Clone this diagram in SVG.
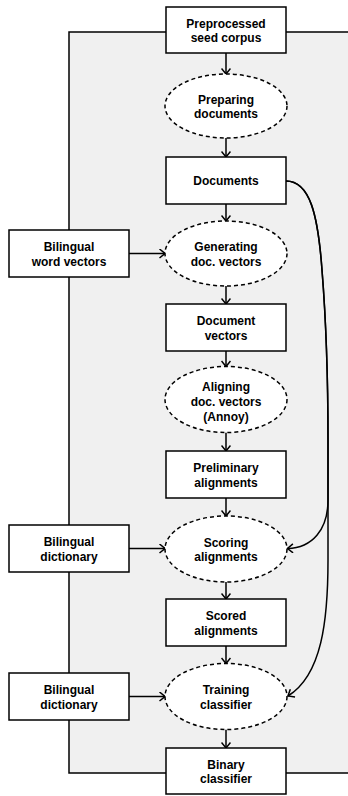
<svg xmlns="http://www.w3.org/2000/svg" width="348" height="796" viewBox="0 0 348 796">
<style>
.box{fill:#fff;stroke:#000;stroke-width:1.5}
.proc{fill:#fff;stroke:#000;stroke-width:1.5;stroke-dasharray:4 3}
.bg{fill:#f0f0f0;stroke:#000;stroke-width:1.5}
.c{fill:none;stroke:#000;stroke-width:1.5;marker-end:url(#arr)}
text{font-family:"Liberation Sans",Arial,sans-serif;font-weight:bold;font-size:12px;text-anchor:middle;fill:#000}
</style>
<defs>
<marker id="arr" markerUnits="userSpaceOnUse" viewBox="0 0 10 10" refX="9" refY="5" markerWidth="10" markerHeight="10" orient="auto">
<path d="M3.5,0.5 L9,5 L3.5,9.5" fill="none" stroke="#000" stroke-width="1.5"/>
</marker>
</defs>
<rect class="bg" x="69" y="32" width="290" height="741"/>
<g id="connectors">
<path class="c" d="M226,53 V74"/>
<path class="c" d="M226,138 V157"/>
<path class="c" d="M226,204 V221"/>
<path class="c" d="M226,286 V304"/>
<path class="c" d="M226,351 V366.5"/>
<path class="c" d="M226,432.5 V451"/>
<path class="c" d="M226,498 V516"/>
<path class="c" d="M226,582 V599"/>
<path class="c" d="M226,646 V663.5"/>
<path class="c" d="M226,729.5 V748"/>
<path class="c" d="M129,253.5 H165"/>
<path class="c" d="M129,548.5 H165"/>
<path class="c" d="M129,696.5 H165"/>
<path class="c" d="M286,181 C310,181 318,215 322,270 C326,320 328,380 328,440 L328,500 C328,530 312,548 287.5,548.5"/>
<path class="c" d="M286,181 C310,181 318,215 322,270 C326,320 328,380 328,440 L328,560 C328,620 322,675 288,696"/>
</g>
<g id="n-preprocessed"><rect class="box" x="166" y="7" width="120" height="46"/><text x="226" y="27.5">Preprocessed</text><text x="226" y="42">seed corpus</text></g>
<g id="n-preparing"><ellipse class="proc" cx="226" cy="106" rx="61" ry="32"/><text x="226" y="103.5">Preparing</text><text x="226" y="118">documents</text></g>
<g id="n-documents"><rect class="box" x="166" y="157" width="120" height="47"/><text x="226" y="185">Documents</text></g>
<g id="n-generating"><ellipse class="proc" cx="226" cy="253.5" rx="61" ry="32.5"/><text x="226" y="251">Generating</text><text x="226" y="265.5">doc. vectors</text></g>
<g id="n-bwv"><rect class="box" x="9" y="230" width="120" height="47"/><text x="69" y="251">Bilingual</text><text x="69" y="265.5">word vectors</text></g>
<g id="n-docvectors"><rect class="box" x="166" y="304" width="120" height="47"/><text x="226" y="325">Document</text><text x="226" y="339.5">vectors</text></g>
<g id="n-aligning"><ellipse class="proc" cx="226" cy="399.5" rx="61" ry="33"/><text x="226" y="390.5">Aligning</text><text x="226" y="405.5">doc. vectors</text><text x="226" y="420.5">(Annoy)</text></g>
<g id="n-preliminary"><rect class="box" x="166" y="451" width="120" height="47"/><text x="226" y="472">Preliminary</text><text x="226" y="486.5">alignments</text></g>
<g id="n-scoring"><ellipse class="proc" cx="226" cy="549" rx="61" ry="33"/><text x="226" y="546.5">Scoring</text><text x="226" y="561">alignments</text></g>
<g id="n-bd1"><rect class="box" x="9" y="525" width="120" height="47"/><text x="69" y="546">Bilingual</text><text x="69" y="560.5">dictionary</text></g>
<g id="n-scored"><rect class="box" x="166" y="599" width="120" height="47"/><text x="226" y="620">Scored</text><text x="226" y="634.5">alignments</text></g>
<g id="n-training"><ellipse class="proc" cx="226" cy="696.5" rx="61" ry="33"/><text x="226" y="694">Training</text><text x="226" y="708.5">classifier</text></g>
<g id="n-bd2"><rect class="box" x="9" y="673" width="120" height="47"/><text x="69" y="694">Bilingual</text><text x="69" y="708.5">dictionary</text></g>
<g id="n-binary"><rect class="box" x="166" y="748" width="120" height="46"/><text x="226" y="768.5">Binary</text><text x="226" y="783">classifier</text></g>
</svg>
